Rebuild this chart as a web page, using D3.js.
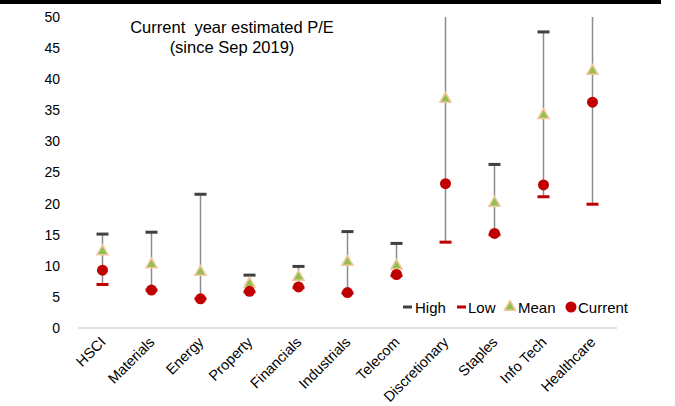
<!DOCTYPE html>
<html><head><meta charset="utf-8">
<script src="https://cdn.jsdelivr.net/npm/d3@7"></script>
<style>body{margin:0;background:#fff}svg{display:block;font-family:Arial,"Liberation Sans",sans-serif}</style>
</head><body><svg id="c" width="675" height="406"></svg>
<script>
const categories = ["HSCI","Materials","Energy","Property","Financials","Industrials","Telecom","Discretionary","Staples","Info Tech","Healthcare"];
const highValues = [15.1,15.4,21.5,8.5,9.9,15.5,13.6,60,26.3,47.6,60];
const lowValues  = [7.0,6.1,4.7,5.8,6.5,5.6,8.4,13.8,15.0,21.1,19.9];
const meanValues = [12.3,10.2,9.0,7.1,8.2,10.6,10.0,36.8,20.1,34.2,41.3];
const currentValues = [9.3,6.1,4.7,5.9,6.6,5.7,8.6,23.2,15.2,23.0,36.3];
const yTicks = [0,5,10,15,20,25,30,35,40,45,50];

const svg = d3.select("#c");
const x = d3.scaleBand().domain(categories).range([78, 617]).padding(0);
const y = d3.scaleLinear().domain([0, 50]).range([328, 17]);

// top black bar
svg.append("rect").attr("x",0).attr("y",0).attr("width",661).attr("height",4).attr("fill","#000");

svg.append("defs").append("clipPath").attr("id","clip")
  .append("rect").attr("x",70).attr("y",y(50)).attr("width",560).attr("height",y(0)-y(50)+10);

// baseline
svg.append("line").attr("x1",78).attr("x2",617).attr("y1",y(0)).attr("y2",y(0))
  .attr("stroke","#d9d9d9").attr("stroke-width",1.5);

// y axis labels
const yAxis = d3.axisLeft(y).tickValues(yTicks).tickSize(0).tickPadding(0);
const ga = svg.append("g").attr("transform","translate(60,0)").call(yAxis);
ga.select(".domain").remove();
ga.selectAll("text").attr("font-size",14).attr("fill","#000").attr("font-family",'Arial,"Liberation Sans",sans-serif');

// x labels
const cx = c => x(c) + x.bandwidth()/2;
svg.append("g").selectAll("text").data(categories).join("text")
  .attr("transform", d => `translate(${cx(d)+4},${y(0)+15}) rotate(-45)`)
  .attr("text-anchor","end").attr("font-size",14.5).attr("fill","#000")
  .text(d => d);

const data = categories.map((c,i)=>({c, hi:highValues[i], lo:lowValues[i], mean:meanValues[i], cur:currentValues[i]}));
const g = svg.append("g").attr("clip-path","url(#clip)");

// vertical range lines
g.selectAll("line.rng").data(data).join("line").attr("class","rng")
  .attr("x1",d=>cx(d.c)).attr("x2",d=>cx(d.c))
  .attr("y1",d=>y(d.hi)).attr("y2",d=>y(d.lo))
  .attr("stroke","#8c8c8c").attr("stroke-width",1.5);

// high dashes
g.selectAll("rect.hi").data(data).join("rect").attr("class","hi")
  .attr("x",d=>cx(d.c)-6).attr("y",d=>y(d.hi)-1.5).attr("width",12).attr("height",3).attr("fill","#404040");
// low dashes
g.selectAll("rect.lo").data(data).join("rect").attr("class","lo")
  .attr("x",d=>cx(d.c)-6).attr("y",d=>y(d.lo)-1.5).attr("width",12).attr("height",3).attr("fill","#c00000");

const tri = d3.symbol().type(d3.symbolTriangle).size(55);
g.selectAll("path.mean").data(data).join("path").attr("class","mean")
  .attr("d",tri).attr("transform",d=>`translate(${cx(d.c)},${y(d.mean)})`)
  .attr("fill","#92c050").attr("stroke","#f5c9a0").attr("stroke-width",1.5);

g.selectAll("circle.cur").data(data).join("circle").attr("class","cur")
  .attr("cx",d=>cx(d.c)).attr("cy",d=>y(d.cur)).attr("r",5.5).attr("fill","#c00000");

// title
const t = svg.append("text").attr("text-anchor","middle").attr("font-size",16.5).attr("fill","#000");
t.append("tspan").attr("x",232).attr("y",33).text("Current  year estimated P/E").style("white-space","pre");
t.append("tspan").attr("x",232).attr("y",53).text("(since Sep 2019)");

// legend
const ly = 307;
const leg = svg.append("g").attr("font-size",15).attr("fill","#000");
leg.append("rect").attr("x",403).attr("y",ly-1.5).attr("width",9).attr("height",3).attr("fill","#404040");
leg.append("text").attr("x",415).attr("y",ly+5.5).text("High");
leg.append("rect").attr("x",457).attr("y",ly-1.5).attr("width",9).attr("height",3).attr("fill","#c00000");
leg.append("text").attr("x",468).attr("y",ly+5.5).text("Low");
leg.append("path").attr("d",tri).attr("transform",`translate(510,${ly})`)
  .attr("fill","#92c050").attr("stroke","#f5c9a0").attr("stroke-width",1.5);
leg.append("text").attr("x",518).attr("y",ly+5.5).text("Mean");
leg.append("circle").attr("cx",571).attr("cy",ly).attr("r",5.5).attr("fill","#c00000");
leg.append("text").attr("x",578).attr("y",ly+5.5).text("Current");
</script></body></html>
